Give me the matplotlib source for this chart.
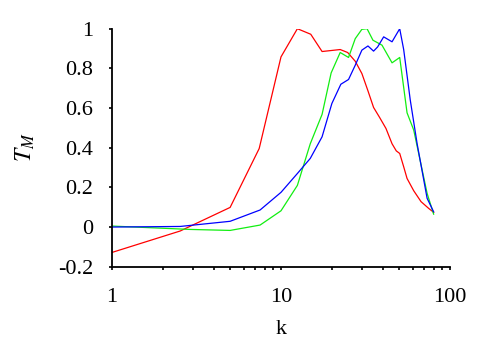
import matplotlib
matplotlib.use('Agg')
import matplotlib.pyplot as plt
from matplotlib.ticker import FixedLocator, FixedFormatter, LogLocator, NullFormatter

plt.rcParams['font.family'] = ['Liberation Serif', 'DejaVu Serif']
plt.rcParams['mathtext.fontset'] = 'stix'
plt.rcParams['axes.unicode_minus'] = False

# red curve
k_red = [1, 2.53, 5.0, 7.43, 10.0, 12.5, 15.0, 17.5, 22.4, 24.8, 27.5, 30.1, 32.6, 35.3,
         38.3, 41.8, 45.4, 48.1, 50.4, 53.2, 55.7, 61.0, 67.4, 74.8, 80.1]
t_red = [-0.128, -0.02, 0.099, 0.396, 0.858, 1.0, 0.972, 0.885, 0.895, 0.880, 0.836, 0.774, 0.69, 0.603,
         0.553, 0.497, 0.42, 0.384, 0.371, 0.304, 0.245, 0.183, 0.128, 0.094, 0.074]

# green curve
k_green = [1, 2.9, 5.0, 7.52, 10.0, 12.5, 14.9, 17.5, 19.8, 22.4, 25.1, 27.5, 30.1, 32.3,
           35.0, 39.6, 45.4, 50.4, 55.7, 61.0, 73.2, 80.0]
t_green = [0.005, -0.012, -0.017, 0.01, 0.082, 0.21, 0.42, 0.568, 0.777, 0.88, 0.855, 0.95, 0.997, 1.0,
           0.942, 0.917, 0.828, 0.855, 0.576, 0.489, 0.17, 0.065]

# blue curve
k_blue = [1, 2.53, 5.0, 7.52, 10.0, 12.5, 14.9, 17.5, 20.0, 22.6, 25.1, 27.5, 30.1, 32.7,
          35.3, 37.3, 40.5, 45.4, 50.4, 53.2, 58.2, 63.9, 73.2, 80.0]
t_blue = [0.0, 0.003, 0.029, 0.086, 0.175, 0.27, 0.346, 0.455, 0.623, 0.72, 0.744, 0.816, 0.892, 0.913,
          0.887, 0.908, 0.959, 0.934, 1.0, 0.895, 0.64, 0.42, 0.145, 0.077]

y_ticks = [-0.2, 0, 0.2, 0.4, 0.6, 0.8, 1]
y_labels = ['-0.2', '0', '0.2', '0.4', '0.6', '0.8', '1']

fig = plt.figure(figsize=(4.91, 3.43), dpi=100)
ax = fig.add_axes([0.2281, 0.2224, 0.6884, 0.6939])

ax.plot(k_red, t_red, color='#ff0000', lw=0.9)
ax.plot(k_green, t_green, color='#11ee11', lw=0.9)
ax.plot(k_blue, t_blue, color='#0000ff', lw=0.9)

ax.set_xscale('log')
ax.set_xlim(1, 100)
ax.set_ylim(-0.2, 1)

ax.xaxis.set_major_locator(FixedLocator([1, 10, 100]))
ax.xaxis.set_major_formatter(FixedFormatter(['1', '10', '100']))
ax.xaxis.set_minor_locator(LogLocator(base=10, subs=range(2, 10)))
ax.xaxis.set_minor_formatter(NullFormatter())
ax.yaxis.set_major_locator(FixedLocator(y_ticks))
ax.yaxis.set_major_formatter(FixedFormatter(y_labels))

for side in ['top', 'right']:
    ax.spines[side].set_visible(False)
for side in ['left', 'bottom']:
    ax.spines[side].set_linewidth(1.3)

ax.tick_params(axis='both', which='major', direction='out', length=2.5, width=1.2,
               labelsize=16, color='black')
ax.tick_params(axis='x', which='major', pad=13)
ax.tick_params(axis='y', which='major', pad=11)
ax.tick_params(axis='x', which='minor', direction='out', length=2, width=1.2)

ax.set_xlabel('k', fontsize=16)
ax.set_ylabel('$T_M$', fontsize=17)
ax.xaxis.set_label_coords(0.5, -0.222)
ax.yaxis.set_label_coords(-0.222, 0.5)

plt.savefig('out.png', dpi=100)
